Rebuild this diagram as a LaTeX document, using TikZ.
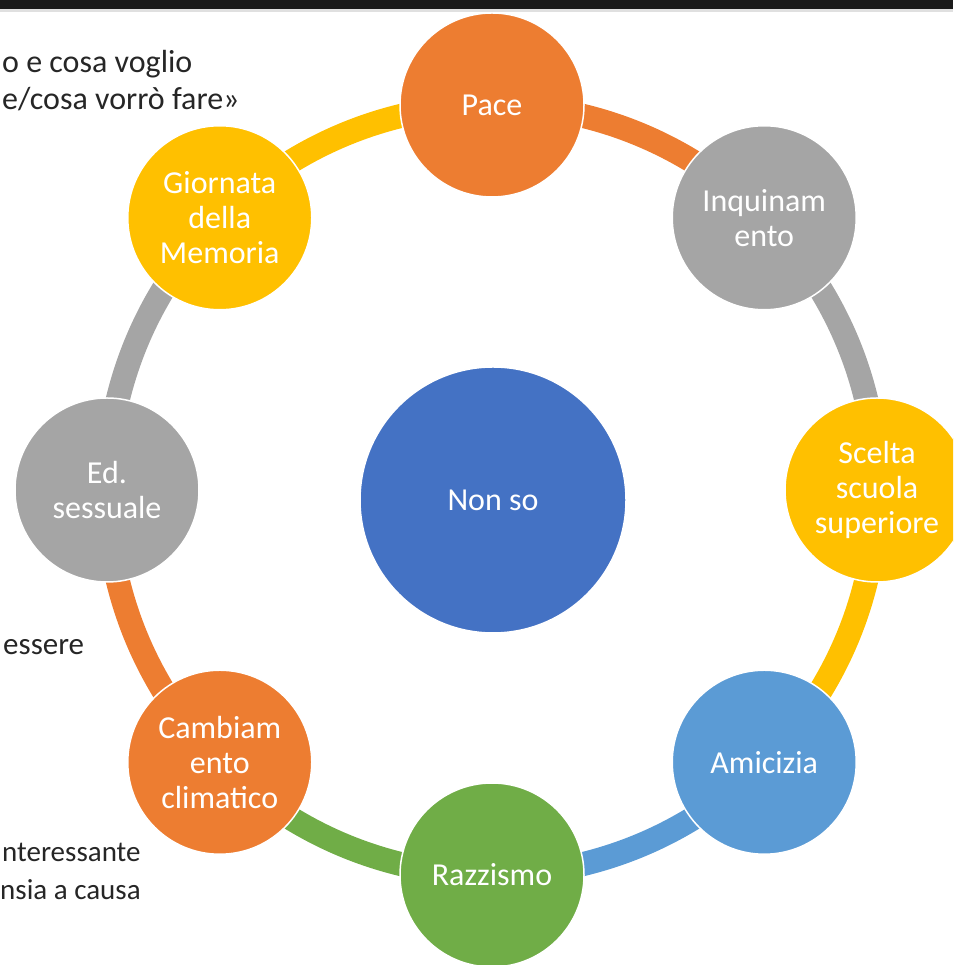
\documentclass[tikz,border=0pt]{standalone}
\usepackage{fontspec}
\setmainfont{Carlito}
\usetikzlibrary{backgrounds}
\definecolor{arancio}{HTML}{ED7D31}
\definecolor{grigio}{HTML}{A5A5A5}
\definecolor{giallo}{HTML}{FFC000}
\definecolor{azzurro}{HTML}{5B9BD5}
\definecolor{verde}{HTML}{70AD47}
\definecolor{blu}{HTML}{4472C4}
\definecolor{testo}{HTML}{262626}
\definecolor{barra}{HTML}{1A1A1A}
\tikzset{
	tema/.style={circle, draw=white, line width=1.5pt, fill=#1, minimum size=184pt, inner sep=0pt, text=white, align=center, font=\fontsize{32}{35}\selectfont},
	anello/.style={line width=24pt, draw=#1},
	nota/.style={anchor=base west, inner sep=0pt, text=testo, font=\fontsize{32}{38}\selectfont}
}
\begin{document}
\begin{tikzpicture}[x=1pt,y=1pt]
	\def\R{385} \def\cx{492} \def\cy{475} % centro e raggio dell'anello
	\useasboundingbox (0,0) rectangle (953,965);
	\clip (0,0) rectangle (953,965);
	
	% barra in alto
	\fill[barra] (0,956) rectangle (953,965);
	\fill[black!12] (0,953) rectangle (953,956);
	
	% testo tagliato a sinistra
	\node[nota] (riga1) at (2,892) {o e cosa voglio};
	\node[nota] (riga2) at (2,855) {e/cosa vorrò fare»};
	\node[nota, font=\fontsize{31}{38}\selectfont] (riga3) at (3,310) {essere};
	\node[nota, font=\fontsize{29}{38}\selectfont] (riga4) at (2,103) {nteressante};
	\node[nota, font=\fontsize{29}{38}\selectfont] (riga5) at (0,65) {nsia a causa};
	
	\coordinate (o) at (\cx,\cy);
	\node[tema=blu, minimum size=266pt] (nonso) at (493,465) {Non so};
	\node[tema=arancio] (pace) at ([shift={(90:\R)}]o) {Pace};
	\node[tema=grigio] (inquinamento) at ([shift={(45:\R)}]o) {Inquinam\\ento};
	\node[tema=giallo] (scelta) at ([shift={(0:\R)}]o) {Scelta\\scuola\\superiore};
	\node[tema=azzurro] (amicizia) at ([shift={(-45:\R)}]o) {Amicizia};
	\node[tema=verde] (razzismo) at ([shift={(-90:\R)}]o) {Razzismo};
	\node[tema=arancio] (clima) at ([shift={(-135:\R)}]o) {Cambiam\\ento\\climatico};
	\node[tema=grigio] (sessuale) at ([shift={(180:\R)}]o) {Ed.\\sessuale};
	\node[tema=giallo] (memoria) at ([shift={(135:\R)}]o) {Giornata\\della\\Memoria};
	
	\begin{scope}[on background layer]
		\draw[anello=arancio] (pace.center) arc[start angle=90, end angle=45, radius=\R];
		\draw[anello=grigio] (inquinamento.center) arc[start angle=45, end angle=0, radius=\R];
		\draw[anello=giallo] (scelta.center) arc[start angle=0, end angle=-45, radius=\R];
		\draw[anello=azzurro] (amicizia.center) arc[start angle=-45, end angle=-90, radius=\R];
		\draw[anello=verde] (razzismo.center) arc[start angle=-90, end angle=-135, radius=\R];
		\draw[anello=arancio] (clima.center) arc[start angle=-135, end angle=-180, radius=\R];
		\draw[anello=grigio] (sessuale.center) arc[start angle=180, end angle=135, radius=\R];
		\draw[anello=giallo] (memoria.center) arc[start angle=135, end angle=90, radius=\R];
	\end{scope}
\end{tikzpicture}
\end{document}
